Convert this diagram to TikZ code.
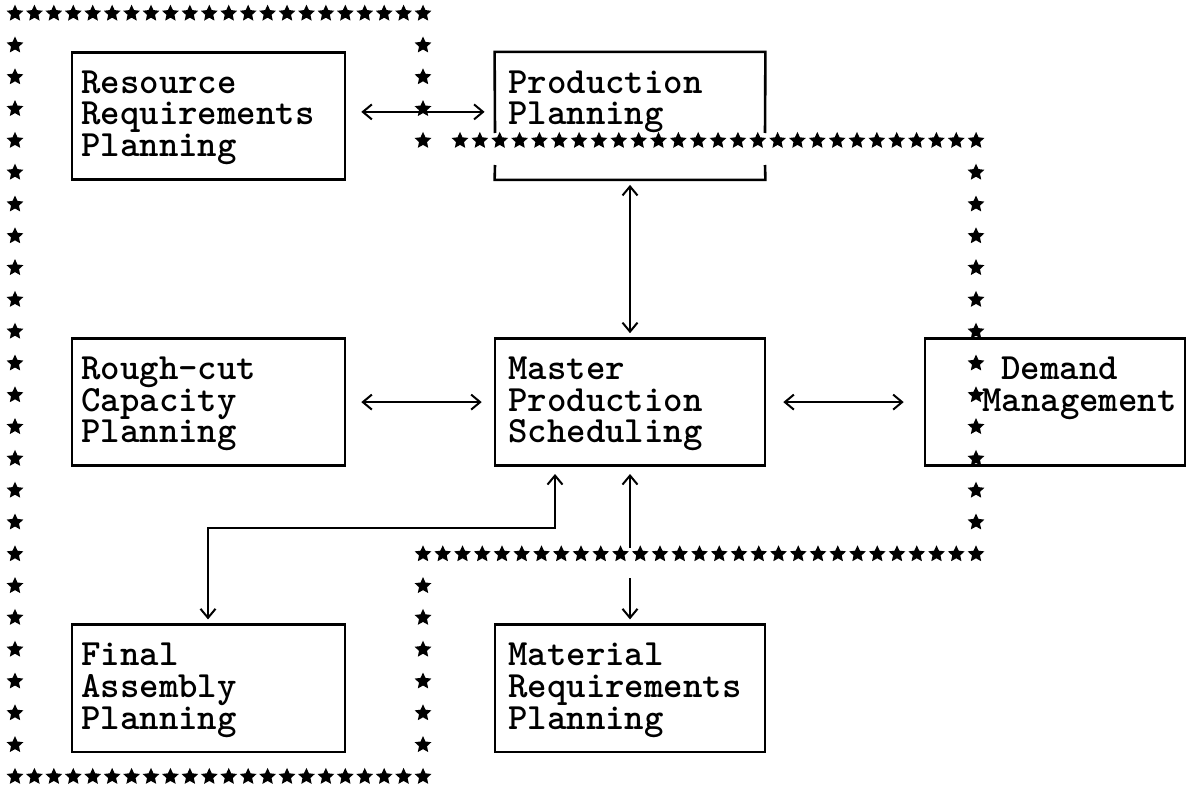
\documentclass[tikz,border=0pt]{standalone}
\usetikzlibrary{arrows.meta,calc,fit}
\tikzset{
  boxst/.style={draw, line width=1.3pt, inner sep=0pt},
  plainbox/.style={inner sep=0pt},
  boxline/.style={line width=1.3pt},
  txt/.style={font=\fontsize{18.5pt}{16pt}\selectfont\ttfamily\bfseries, inner sep=0pt, anchor=base west},
  ln/.style={line width=1pt},
  arr/.style={ln, <->},
  pics/st/.style={code={\fill (90:4.4pt) -- (126:2.1pt) -- (162:4.4pt) -- (198:2.1pt) -- (234:4.4pt) -- (270:2.1pt) -- (306:4.4pt) -- (342:2.1pt) -- (18:4.4pt) -- (54:2.1pt) -- cycle;}}
}
\begin{document}
\begin{tikzpicture}[x=0.5pt, y=-0.5pt, >={Straight Barb[length=4.5pt,width=7.5pt]}]
\useasboundingbox (0,0) rectangle (1192,792);

% star frames
\foreach \c in {0,...,21} {
  \pic at ({15+19.43*\c},13.5) {st};
  \pic at ({15+19.43*\c},776.7) {st};
}
\foreach \r in {1,...,23} { \pic at (15,{13.5+31.8*\r}) {st}; }
\foreach \r in {1,2,3,4,18,19,20,21,22,23} { \pic at (423,{13.5+31.8*\r}) {st}; }
\foreach \i in {0,...,26} { \pic at ({460+19.85*\i},140.7) {st}; }
\foreach \r in {5,...,16} { \pic at (976,{13.5+31.8*\r}) {st}; }
\foreach \i in {0,...,28} { \pic at ({423+19.75*\i},554.1) {st}; }

% boxes
\node[boxst, fit={(72,52.3) (345,179.5)}] (rrp) {};
\node[plainbox, fit={(495,52.3) (765,179.5)}] (pp) {};
\draw[boxline] (495,133) -- (pp.north west) -- (pp.north east) -- (765,133);
\draw[boxline] (495,165) -- (pp.south west) -- (pp.south east) -- (765,165);
\node[boxst, fit={(72,338.5) (345,465.7)}] (rcp) {};
\node[boxst, fit={(495,338.5) (765,465.7)}] (mps) {};
\node[boxst, fit={(925,338.5) (1185,465.7)}] (dm) {};
\node[boxst, fit={(72,624.7) (345,751.9)}] (fap) {};
\node[boxst, fit={(495,624.7) (765,751.9)}] (mrp) {};

% texts
\node[txt] (t1) at (81,93.1) {Resource};
\node[txt] (t2) at (81,124.9) {Requirements};
\node[txt] (t3) at (81,156.7) {Planning};
\node[txt] (t4) at (508,93.1) {Production};
\node[txt] (t5) at (508,124.9) {Planning};
\node[txt] (t6) at (81,379.3) {Rough-cut};
\node[txt] (t7) at (81,411.1) {Capacity};
\node[txt] (t8) at (81,442.9) {Planning};
\node[txt] (t9) at (508,379.3) {Master};
\node[txt] (t10) at (508,411.1) {Production};
\node[txt] (t11) at (508,442.9) {Scheduling};
\node[txt] (t12) at (1001,379.3) {Demand};
\node[txt] (t13) at (982,411.1) {Management};
\node[txt] (t14) at (81,665.5) {Final};
\node[txt] (t15) at (81,697.3) {Assembly};
\node[txt] (t16) at (81,729.1) {Planning};
\node[txt] (t17) at (508,665.5) {Material};
\node[txt] (t18) at (508,697.3) {Requirements};
\node[txt] (t19) at (508,729.1) {Planning};

% connectors
\draw[arr] ($(rrp.east)+(15,-4)$) -- ($(pp.west)+(-10,-4)$);
\draw[arr] ($(rcp.east)+(15,0)$) -- ($(mps.west)+(-12,0)$);
\draw[arr] ($(mps.east)+(17,0)$) -- ($(dm.west)+(-20,0)$);
\draw[arr] ($(pp.south)+(0,5)$) -- ($(mps.north)+(0,-4)$);
\coordinate (e1) at (555,528);
\coordinate (e2) at (208,528);
\draw[arr] ($(mps.south -| e1)+(0,7)$) -- (e1) -- (e2) -- ($(fap.north -| e2)+(0,-4)$);
\coordinate (c1) at (630,548);
\coordinate (c2) at (630,578);
\draw[ln, <-] ($(mps.south)+(0,7)$) -- (c1);
\draw[ln, ->] (c2) -- ($(mrp.north)+(0,-4)$);
\end{tikzpicture}
\end{document}
